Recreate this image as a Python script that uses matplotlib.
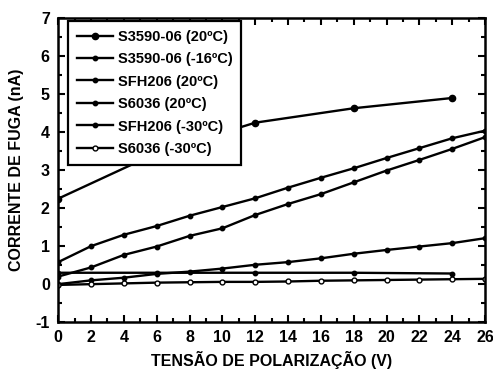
import numpy as np
import matplotlib
matplotlib.use("Agg")
import matplotlib.pyplot as plt
from matplotlib.ticker import MultipleLocator

plt.rcParams["font.family"] = ["Liberation Sans", "DejaVu Sans"]
plt.rcParams["font.weight"] = "bold"
plt.rcParams["axes.unicode_minus"] = False

# leakage current (nA) vs reverse bias (V)
v_s3590_20 = [0, 6, 12, 18, 24]
i_s3590_20 = [2.25, 3.45, 4.25, 4.63, 4.9]

v_full = [0, 2, 4, 6, 8, 10, 12, 14, 16, 18, 20, 22, 24, 26]
i_s3590_m16 = [0.58, 1.0, 1.3, 1.53, 1.8, 2.03, 2.26, 2.54, 2.8, 3.05, 3.32, 3.58, 3.84, 4.04]
i_sfh206_20 = [0.2, 0.44, 0.77, 0.99, 1.27, 1.47, 1.82, 2.11, 2.37, 2.68, 2.99, 3.27, 3.56, 3.87]
i_s6036_20 = [0.0, 0.1, 0.17, 0.27, 0.33, 0.41, 0.51, 0.58, 0.68, 0.8, 0.9, 0.99, 1.08, 1.21]

v_sfh206_m30 = [0, 6, 12, 18, 24]
i_sfh206_m30 = [0.3, 0.3, 0.3, 0.3, 0.28]

i_s6036_m30 = [-0.02, 0.0, 0.02, 0.04, 0.05, 0.06, 0.06, 0.07, 0.09, 0.1, 0.11, 0.12, 0.13, 0.14]

fig = plt.figure(figsize=(4.93, 3.79), dpi=100)
ax = fig.add_axes([0.118, 0.150, 0.866, 0.802])

kw = dict(color="black", linewidth=1.7)
ax.plot(v_s3590_20, i_s3590_20, marker="o", markersize=4.5, label="S3590-06 (20ºC)", **kw)
ax.plot(v_full, i_s3590_m16, marker="o", markersize=3.2, label="S3590-06 (-16ºC)", **kw)
ax.plot(v_full, i_sfh206_20, marker="o", markersize=3.2, label="SFH206 (20ºC)", **kw)
ax.plot(v_full, i_s6036_20, marker="o", markersize=3.2, label="S6036 (20ºC)", **kw)
ax.plot(v_sfh206_m30, i_sfh206_m30, marker="o", markersize=3.2, label="SFH206 (-30ºC)", **kw)
ax.plot(v_full, i_s6036_m30, marker="o", markersize=3.5, markerfacecolor="white",
        label="S6036 (-30ºC)", **kw)

ax.set_xlim(0, 26)
ax.set_ylim(-1, 7)
ax.xaxis.set_major_locator(MultipleLocator(2))
ax.xaxis.set_minor_locator(MultipleLocator(1))
ax.yaxis.set_major_locator(MultipleLocator(1))
ax.yaxis.set_minor_locator(MultipleLocator(0.5))
ax.tick_params(which="both", direction="in", top=True, right=True, width=1.5)
ax.tick_params(which="major", length=5, labelsize=11.5, pad=6)
ax.tick_params(which="minor", length=3)
for s in ax.spines.values():
    s.set_linewidth(1.8)

ax.set_xlabel("TENSÃO DE POLARIZAÇÃO (V)", fontsize=11.5, fontweight="bold", labelpad=4)
ax.set_ylabel("CORRENTE DE FUGA (nA)", fontsize=11.5, fontweight="bold", labelpad=8)

leg = ax.legend(loc="upper left", bbox_to_anchor=(0.023, 0.991), borderaxespad=0,
                fontsize=10.5, handlelength=2.5, handletextpad=0.3, labelspacing=0.58,
                fancybox=False, framealpha=1, edgecolor="black", borderpad=0.6)
leg.get_frame().set_linewidth(1.6)

fig.savefig("out.png", dpi=100)
